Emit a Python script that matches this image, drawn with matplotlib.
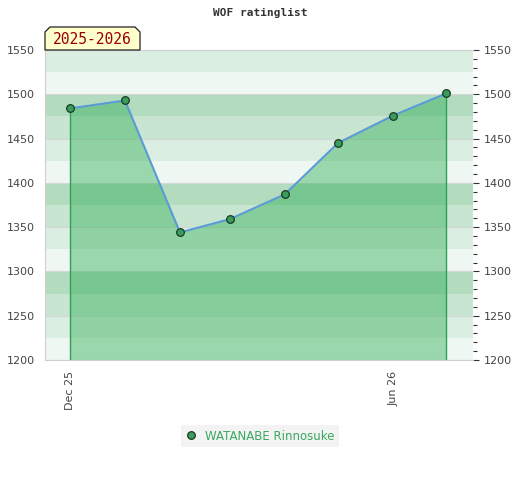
import datetime as dt
import matplotlib
matplotlib.use('Agg')
import matplotlib.pyplot as plt
import matplotlib.dates as mdates
from matplotlib.patches import Polygon
from matplotlib.ticker import MultipleLocator

# data (monthly rating)
months = [dt.date(2025, 12, 1), dt.date(2026, 1, 1), dt.date(2026, 2, 1), dt.date(2026, 3, 1),
          dt.date(2026, 4, 1), dt.date(2026, 5, 1), dt.date(2026, 6, 1), dt.date(2026, 7, 1)]
rating = [1484, 1493, 1344, 1359, 1387, 1445, 1476, 1501]
player = 'WATANABE Rinnosuke'
season = '2025-2026'
title = 'WOF ratinglist'

band_colors = ['#eef7f1', '#dbeee2', '#c7e5d0', '#b3dcbf']  # from low to high inside each 100 block
fill_color = '#2aac50'
line_color = '#5b9bd5'
dot_color = '#3a9d5d'

fig = plt.figure(figsize=(5.2, 4.8), dpi=100)
ax = fig.add_axes([45 / 520, 1 - 360 / 480, 428 / 520, 310 / 480])

ymin, ymax = 1200, 1550
ax.set_ylim(ymin, ymax)
ax.set_xlim(dt.date(2025, 11, 17), dt.date(2026, 7, 16))

# background stripes, 25 wide, cycling every 100
for lo in range(ymin, ymax, 25):
    ax.axhspan(lo, lo + 25, color=band_colors[(lo % 100) // 25], lw=0, zorder=0)
for y in range(ymin, ymax + 1, 50):
    ax.axhline(y, color='#d6d6d6', lw=0.8, zorder=1)

ax.fill_between(months, rating, ymin, color=fill_color, alpha=0.42, lw=0, zorder=2)
ax.vlines([months[0], months[-1]], ymin, [rating[0], rating[-1]], color='#2ea055', lw=1, zorder=3)
ax.plot(months, rating, color=line_color, lw=1.5, zorder=4)
ax.plot(months, rating, 'o', ms=5.5, mfc=dot_color, mec='#1a3a22', mew=0.9, zorder=5,
        label=player)

for side in ['left', 'top', 'bottom']:
    ax.spines[side].set_color('#cfcfcf')
ax.spines['right'].set_visible(False)

ax.yaxis.set_major_locator(MultipleLocator(50))
ax.yaxis.set_minor_locator(MultipleLocator(10))
ax.tick_params(axis='y', which='both', labelsize=8, labelcolor='#444444', left=False,
               right=True, labelright=True, color='#333333', pad=3.5)
ax.tick_params(axis='y', which='major', length=4, width=0.8)
ax.tick_params(axis='y', which='minor', length=3, width=0.8)

ax.xaxis.set_major_locator(mdates.MonthLocator(bymonth=[6, 12]))
ax.xaxis.set_major_formatter(mdates.DateFormatter('%b %y'))
ax.tick_params(axis='x', labelsize=8, labelcolor='#444444', length=0, pad=8, labelrotation=90)

fig.text(0.5, 1 - 13 / 480, title, ha='center', va='center', family='DejaVu Sans Mono',
         weight='bold', fontsize=8, color='#333333')

# season tag with clipped top corners
w, h, c = 95 / 428, 23 / 310, 5 / 428
ch = 5 / 310
tag = Polygon([(0, 1), (0, 1 + h - ch), (c, 1 + h), (w - c, 1 + h), (w, 1 + h - ch), (w, 1)],
              closed=True, transform=ax.transAxes, facecolor='#ffffcc', edgecolor='#222222',
              lw=0.9, clip_on=False, zorder=10)
ax.add_patch(tag)
ax.text(w / 2, 1 + h / 2 - 0.004, season, transform=ax.transAxes, ha='center', va='center',
        family='DejaVu Sans Mono', fontsize=10.5, color='#990000', zorder=11)

leg = fig.legend(loc='center', bbox_to_anchor=(0.5, 1 - 436 / 480), frameon=True, fancybox=False,
                 fontsize=8.5, handlelength=0.8, handletextpad=0.8, borderpad=0.4)
leg.get_frame().set_facecolor('#f0f0f0')
leg.get_frame().set_edgecolor('none')
for t in leg.get_texts():
    t.set_color('#3aa85f')

fig.savefig('out.png', dpi=100)
